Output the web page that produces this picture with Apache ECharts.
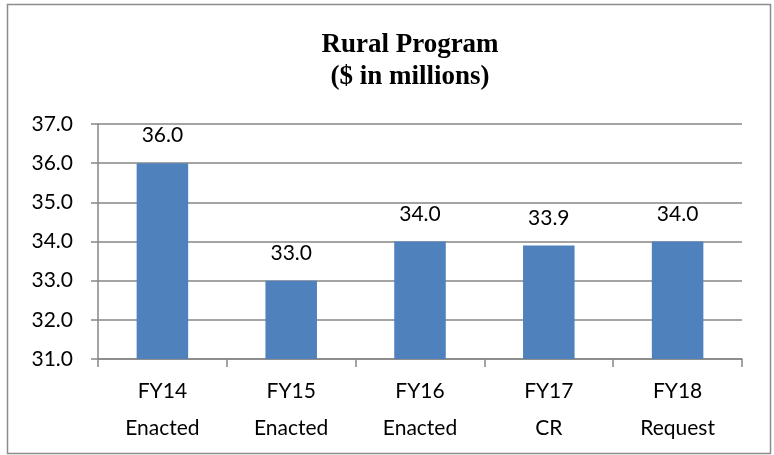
<!DOCTYPE html>
<html><head><meta charset="utf-8">
<script src="https://cdn.jsdelivr.net/npm/echarts@6/dist/echarts.min.js"></script>
<style>html,body{margin:0;padding:0;background:#fff}#c{width:774px;height:455px}</style>
</head><body><div id="c"></div>
<script>
const categories = ['FY14\nEnacted','FY15\nEnacted','FY16\nEnacted','FY17\nCR','FY18\nRequest'];
const values = [36.0, 33.0, 34.0, 33.9, 34.0];
const yMin = 31, yMax = 37, yStep = 1;
const titleText = 'Rural Program\n($ in millions)';

const chart = echarts.init(document.getElementById('c'), null, {renderer:'canvas'});
const font = 'Lato, "Open Sans", sans-serif';
chart.setOption({
  animation:false,
  backgroundColor:'#fff',
  graphic:[{type:'rect',shape:{x:7.5,y:4.5,width:763,height:449},style:{fill:'none',stroke:'#8c8c8c',lineWidth:1.5},z:-1}],
  title:{text:titleText,left:405,textAlign:'center',top:24,textStyle:{fontFamily:'"Liberation Serif", serif',fontWeight:'bold',fontSize:27,lineHeight:32,color:'#000'}},
  grid:{left:98,right:32,top:124,bottom:96},
  xAxis:{type:'category',data:categories,
    axisLine:{lineStyle:{color:'#868686',width:1.5}},
    axisTick:{show:true,length:8,lineStyle:{color:'#868686',width:1.5}},
    axisLabel:{color:'#000',fontFamily:font,fontSize:21,lineHeight:37,margin:14}},
  yAxis:{type:'value',min:yMin,max:yMax,interval:yStep,
    axisLine:{show:true,lineStyle:{color:'#868686',width:1.5}},
    axisTick:{show:true,length:7,lineStyle:{color:'#868686',width:1.5}},
    splitLine:{lineStyle:{color:'#868686',width:1.5}},
    axisLabel:{color:'#000',fontFamily:font,fontSize:21,margin:25,formatter:v=>v.toFixed(1)}},
  series:[{type:'bar',data:values,barWidth:'40%',itemStyle:{color:'#4F81BD'},
    label:{show:true,position:'top',distance:17,color:'#000',fontFamily:font,fontSize:21,formatter:p=>p.value.toFixed(1)}}]
});
</script></body></html>
